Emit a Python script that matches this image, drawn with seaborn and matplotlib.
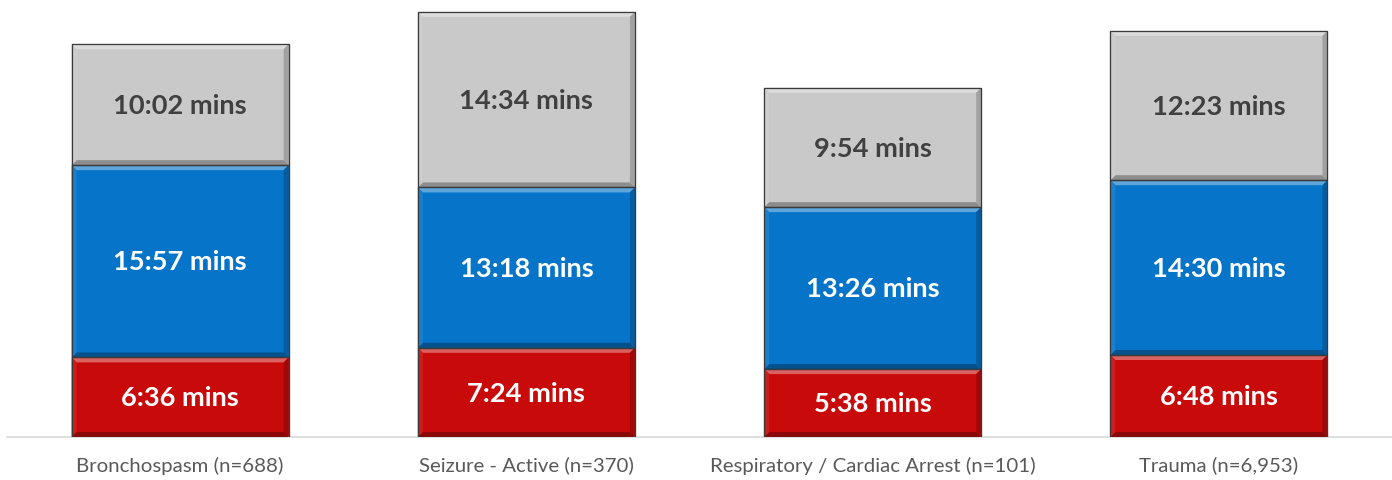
import numpy as np
import pandas as pd
import seaborn as sns
from matplotlib import pyplot as plt
from matplotlib.patches import Polygon
import matplotlib.colors as mcolors

categories = ["Bronchospasm (n=688)", "Seizure - Active (n=370)",
              "Respiratory / Cardiac Arrest (n=101)", "Trauma (n=6,953)"]
# times as "m:ss"
red_times = ["6:36", "7:24", "5:38", "6:48"]
blue_times = ["15:57", "13:18", "13:26", "14:30"]
gray_times = ["10:02", "14:34", "9:54", "12:23"]


def to_minutes(t):
    m, s = t.split(":")
    return int(m) + int(s) / 60.0


sns.set_style("white")
plt.rcParams['font.family'] = ['Lato', 'DejaVu Sans']

fig = plt.figure(figsize=(13.92, 4.8), dpi=100)
ax = fig.add_axes([7 / 1392, 43 / 480, 1385 / 1392, 434 / 480])

segments = [("red", red_times, "#C80A0A", "white"),
            ("blue", blue_times, "#0674C8", "white"),
            ("gray", gray_times, "#C9C9C9", "#404040")]

bottom = np.zeros(len(categories))
seg_patches = []
for name, times, color, tcolor in segments:
    vals = np.array([to_minutes(t) for t in times])
    df = pd.DataFrame({"cat": categories, "val": vals})
    n_before = len(ax.patches)
    sns.barplot(data=df, x="cat", y="val", color=color, width=0.627,
                bottom=bottom, ax=ax, edgecolor="#3a3a3a", linewidth=0.8,
                saturation=1)
    new = ax.patches[n_before:]
    seg_patches.append((new, times, color, tcolor))
    bottom = bottom + vals

ax.set_xlim(-0.5, 3.5)
ax.set_ylim(0, 36)

# bevel overlays (Excel-like soft bevel)
px_x = (ax.get_xlim()[1] - ax.get_xlim()[0]) / (ax.get_position().width * 1392)
px_y = (ax.get_ylim()[1] - ax.get_ylim()[0]) / (ax.get_position().height * 480)
b = 5
for patches, times, color, tcolor in seg_patches:
    base = np.array(mcolors.to_rgb(color))
    light = np.clip(base + (1 - base) * 0.35, 0, 1)
    lside = np.clip(base + (1 - base) * 0.08, 0, 1)
    dark = base * 0.7
    rside = base * 0.8
    for p, t in zip(patches, times):
        x0, y0 = p.get_x(), p.get_y()
        x1, y1 = x0 + p.get_width(), y0 + p.get_height()
        bx, by = b * px_x, b * px_y
        polys = [
            ([(x0, y1), (x1, y1), (x1 - bx, y1 - by), (x0 + bx, y1 - by)], light),
            ([(x0, y0), (x1, y0), (x1 - bx, y0 + by), (x0 + bx, y0 + by)], dark),
            ([(x0, y0), (x0, y1), (x0 + bx, y1 - by), (x0 + bx, y0 + by)], lside),
            ([(x1, y0), (x1, y1), (x1 - bx, y1 - by), (x1 - bx, y0 + by)], rside),
        ]
        for pts, c in polys:
            ax.add_patch(Polygon(pts, closed=True, facecolor=c, edgecolor="none", zorder=3))
        ax.add_patch(Polygon([(x0, y0), (x1, y0), (x1, y1), (x0, y1)], closed=True,
                             facecolor="none", edgecolor="#3a3a3a", linewidth=0.9, zorder=4))
        ax.text(x0 + p.get_width() / 2, y0 + p.get_height() / 2 - 0.1, t + " mins",
                ha="center", va="center", color=tcolor, fontsize=19.6,
                fontweight="bold", zorder=5)

ax.set_xlabel("")
ax.set_ylabel("")
ax.set_yticks([])
ax.tick_params(axis="x", length=0, labelsize=14.7, labelcolor="#595959", pad=14)
for s in ["top", "right", "left"]:
    ax.spines[s].set_visible(False)
ax.spines["bottom"].set_color("#d9d9d9")
ax.spines["bottom"].set_linewidth(1.2)

plt.savefig("out.png", dpi=100)
